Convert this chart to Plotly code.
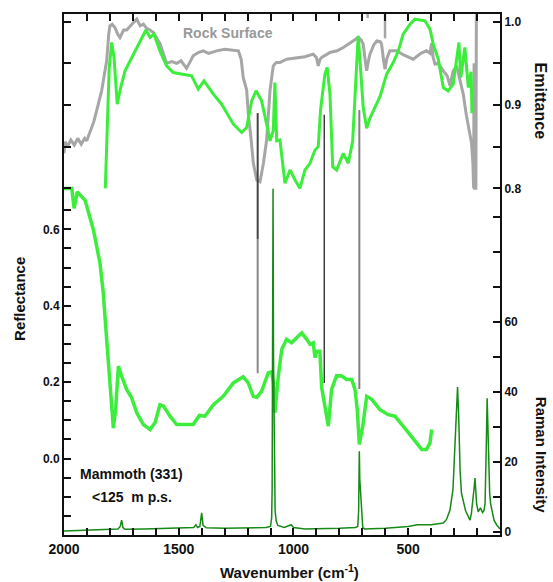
import plotly.graph_objects as go

# ---------------- data ----------------
# Rock surface emittance (gray)
rock_w = [2000,1995,1985,1970,1955,1940,1925,1910,1901,1890,1880,1870,1858,1846,1836,1825,1814,1805,1800,1790,1778,1766,1756,1740,1727,1710,1695,1683,1668,1654,1640,1625,1611,1595,1582,1565,1553,1530,1509,1490,1466,1450,1437,1415,1393,1370,1335,1300,1277,1240,1228,1219,1204,1197,1185,1175,1160,1146,1131,1117,1102,1088,1075,1059,1030,986,950,914,900,892,884,877,841,810,783,750,732,718,705,696,688,681,674,667,650,637,622,616,608,601,594,580,550,520,478,445,420,405,398,392,383,370,347,330,318,305,289,275,260,248,238,230,224,218,215,213,211,205,203]
rock_e = [0.842,0.856,0.850,0.858,0.852,0.860,0.853,0.860,0.857,0.865,0.873,0.880,0.893,0.905,0.917,0.935,0.953,0.985,0.995,0.997,0.993,0.985,0.981,0.990,0.990,0.995,1.000,1.003,0.995,0.997,0.992,0.990,0.987,0.980,0.974,0.960,0.950,0.952,0.950,0.953,0.944,0.952,0.959,0.963,0.965,0.962,0.965,0.967,0.966,0.965,0.955,0.933,0.918,0.890,0.860,0.830,0.810,0.808,0.830,0.858,0.918,0.947,0.951,0.951,0.955,0.957,0.958,0.961,0.957,0.947,0.955,0.957,0.963,0.965,0.969,0.975,0.979,0.981,0.978,0.973,0.955,0.941,0.952,0.961,0.972,0.977,0.976,0.973,0.955,0.943,0.955,0.965,0.965,0.960,0.955,0.962,0.965,0.962,0.974,0.958,0.949,0.950,0.941,0.935,0.923,0.940,0.947,0.930,0.913,0.890,0.873,0.860,0.854,0.830,0.800,0.950,0.800,0.800,1.009]

# Mammoth emittance (bright green, top)
mem_w = [1820,1811,1803,1792,1782,1768,1753,1734,1705,1683,1661,1643,1625,1608,1582,1553,1524,1480,1444,1415,1390,1349,1313,1262,1226,1204,1182,1163,1139,1117,1102,1088,1081,1073,1059,1037,1015,993,972,950,928,906,892,882,870,863,853,841,829,812,783,761,742,728,718,707,696,681,667,652,623,594,565,543,522,492,471,427,405,391,369,347,326,304,289,279,271,253,238,226,222]
mem_e = [0.800,0.866,0.945,0.975,0.957,0.901,0.921,0.941,0.957,0.969,0.981,0.990,0.981,0.985,0.965,0.947,0.939,0.937,0.935,0.919,0.929,0.913,0.901,0.877,0.867,0.873,0.905,0.917,0.905,0.877,0.857,0.869,0.927,0.857,0.858,0.806,0.822,0.810,0.800,0.822,0.830,0.846,0.850,0.894,0.918,0.937,0.945,0.913,0.826,0.822,0.842,0.830,0.857,0.929,0.983,0.941,0.897,0.872,0.884,0.893,0.910,0.937,0.951,0.965,0.985,0.997,1.003,1.001,0.991,0.973,0.955,0.921,0.917,0.925,0.953,0.975,0.933,0.969,0.921,0.940,0.890]

# Mammoth reflectance (bright green, lower)
ref_w = [2000,1966,1956,1942,1908,1872,1843,1829,1815,1800,1785,1775,1763,1749,1727,1705,1683,1654,1625,1603,1582,1567,1538,1509,1466,1437,1410,1386,1349,1306,1262,1219,1197,1175,1160,1139,1110,1095,1088,1081,1066,1051,1030,1008,986,964,942,928,914,906,899,885,877,863,848,834,812,790,768,746,732,722,713,698,681,659,623,587,558,522,478,441,420,405,398]
ref_r = [0.707,0.707,0.655,0.698,0.676,0.599,0.511,0.434,0.320,0.190,0.080,0.128,0.242,0.216,0.181,0.159,0.120,0.089,0.076,0.094,0.141,0.138,0.111,0.089,0.089,0.089,0.113,0.111,0.141,0.163,0.198,0.214,0.198,0.163,0.160,0.176,0.224,0.227,0.200,0.120,0.216,0.286,0.312,0.303,0.316,0.329,0.312,0.299,0.303,0.264,0.281,0.281,0.185,0.137,0.085,0.181,0.217,0.216,0.207,0.207,0.181,0.128,0.037,0.085,0.163,0.155,0.128,0.115,0.111,0.085,0.050,0.024,0.024,0.041,0.076]

# Raman spectrum (dark green)
ram_w = [2000,1900,1800,1765,1755,1749,1743,1735,1650,1550,1480,1435,1425,1418,1408,1400,1394,1380,1300,1200,1120,1100,1095,1093,1091,1089,1087,1084,1080,1075,1068,1040,1010,1000,950,800,730,720,716,714,713,711,708,705,702,698,690,600,500,460,400,347,333,318,305,296,290,285,280,274,268,260,250,238,231,225,219,212,209,205,202,195,185,176,170,165,162,159,156,153,150,145,141,133,126,115,107,100]
ram_i = [0.2,0.4,0.6,0.8,1.5,3.3,1.2,0.7,0.8,1.0,1.0,1.2,2.0,1.2,1.5,5.4,1.8,1.1,1.0,1.0,1.2,1.5,4.0,12.0,50.0,98.0,50.0,15.0,6.0,3.0,1.8,1.2,2.0,1.2,0.8,1.0,1.2,1.5,6.0,18.0,23.0,15.0,11.0,9.0,3.0,1.2,0.8,1.0,1.5,2.0,2.0,2.5,3.5,6.2,12.0,27.0,36.0,41.3,33.0,17.6,11.0,9.0,6.0,4.3,3.3,5.0,8.0,13.0,15.3,10.0,8.0,5.7,6.8,5.5,6.0,8.0,15.0,27.0,38.1,30.0,17.6,11.0,8.0,5.0,3.3,2.0,1.4,0.8]

# Marker lines (wavenumber, top/bottom on Raman scale)
mark_w = [1156, 1156, 866, 713]
mark_top = [119.6, 83.6, 119.1, 120.5]
mark_bot = [83.6, 45.3, 42.5, 40.8]
mark_col = ["#444444", "#888888", "#111111", "#808080"]
mark_wid = [2, 2, 1.2, 2]

# short gray marks at top (emittance scale)
top_mark_w = [677, 601]
top_mark_e = [1.0044, 0.980]

x_ticks = list(range(100, 2001, 100))
x_labels = {2000: "2000", 1500: "1500", 1000: "1000", 500: "500"}
ref_ticks = [round(-0.2 + 0.05 * i, 2) for i in range(18)]
ref_labels = {0.0: "0.0", 0.2: "0.2", 0.4: "0.4", 0.6: "0.6"}
emi_ticks = [0.8, 0.85, 0.9, 0.95, 1.0]
emi_labels = {0.8: "0.8", 0.9: "0.9", 1.0: "1.0"}
ram_ticks = list(range(0, 91, 10))
ram_labels = {0: "0", 20: "20", 40: "40", 60: "60"}

# ---------------- figure ----------------
GREEN = "#3ced3c"
DGREEN = "#168a16"
GRAY = "#a6a6a6"
FONT = "Liberation Sans, Arial, sans-serif"

fig = go.Figure()
fig.add_trace(go.Scatter(x=ref_w, y=ref_r, mode="lines", line=dict(color=GREEN, width=3.5), yaxis="y"))
fig.add_trace(go.Scatter(x=rock_w, y=rock_e, mode="lines", line=dict(color=GRAY, width=3), yaxis="y2"))
fig.add_trace(go.Scatter(x=mem_w, y=mem_e, mode="lines", line=dict(color=GREEN, width=3), yaxis="y2"))
for w, e in zip(top_mark_w, top_mark_e):
    fig.add_trace(go.Scatter(x=[w, w], y=[1.0092, e], mode="lines", line=dict(color=GRAY, width=2.5), yaxis="y2"))
fig.add_trace(go.Scatter(x=ram_w, y=ram_i, mode="lines", line=dict(color=DGREEN, width=1.5), yaxis="y3"))
for w, t, b, c, lw in zip(mark_w, mark_top, mark_bot, mark_col, mark_wid):
    fig.add_trace(go.Scatter(x=[w, w], y=[t, b], mode="lines", line=dict(color=c, width=lw), yaxis="y3"))

axis_common = dict(showgrid=False, zeroline=False, showline=True, linecolor="#111", linewidth=2,
                   ticks="inside", ticklen=7, tickwidth=1.5, tickcolor="#111")

fig.update_layout(
    width=553, height=582,
    margin=dict(l=64, r=53, t=14, b=47),
    paper_bgcolor="white", plot_bgcolor="white",
    showlegend=False,
    font=dict(family=FONT, color="#111"),
    xaxis=dict(range=[2000, 100], tickvals=x_ticks,
               ticktext=[x_labels.get(v, "") for v in x_ticks],
               tickfont=dict(size=14, weight="bold"), mirror="ticks", **axis_common),
    yaxis=dict(range=[-0.2, 1.1635], tickvals=ref_ticks,
               ticktext=[ref_labels.get(v, "") for v in ref_ticks],
               tickfont=dict(size=12, weight="bold"), side="left", **axis_common),
    yaxis2=dict(range=[0.384, 1.0092], tickvals=emi_ticks,
                ticktext=[emi_labels.get(v, "") for v in emi_ticks],
                tickfont=dict(size=12, weight="bold"), side="right", overlaying="y",
                mirror="ticks", **axis_common),
    yaxis3=dict(range=[-0.94, 147.9], tickvals=ram_ticks,
                ticktext=[ram_labels.get(v, "") for v in ram_ticks],
                tickfont=dict(size=12, weight="bold"), side="right", overlaying="y", **axis_common),
)

def ann(text, x, y, size=14, color="#111", angle=0):
    fig.add_annotation(text=text, x=x, y=y, xref="paper", yref="paper", showarrow=False,
                       textangle=angle, font=dict(family=FONT, size=size, color=color, weight="bold"),
                       xanchor="center", yanchor="middle")

ann("Rock Surface", 0.376, 0.9635, size=14, color="#999999")
ann("Mammoth (331)", 0.154, 0.117, size=14)
ann("<125  m p.s.", 0.157, 0.073, size=14)
ann("Reflectance", -0.101, 0.453, size=15, angle=-90)
ann("Emittance", 1.095, 0.833, size=16, angle=90)
ann("Raman Intensity", 1.094, 0.152, size=15, angle=90)
ann("Wavenumber (cm<sup>-1</sup>)", 0.518, -0.071, size=15)

fig.write_html("out.html")
